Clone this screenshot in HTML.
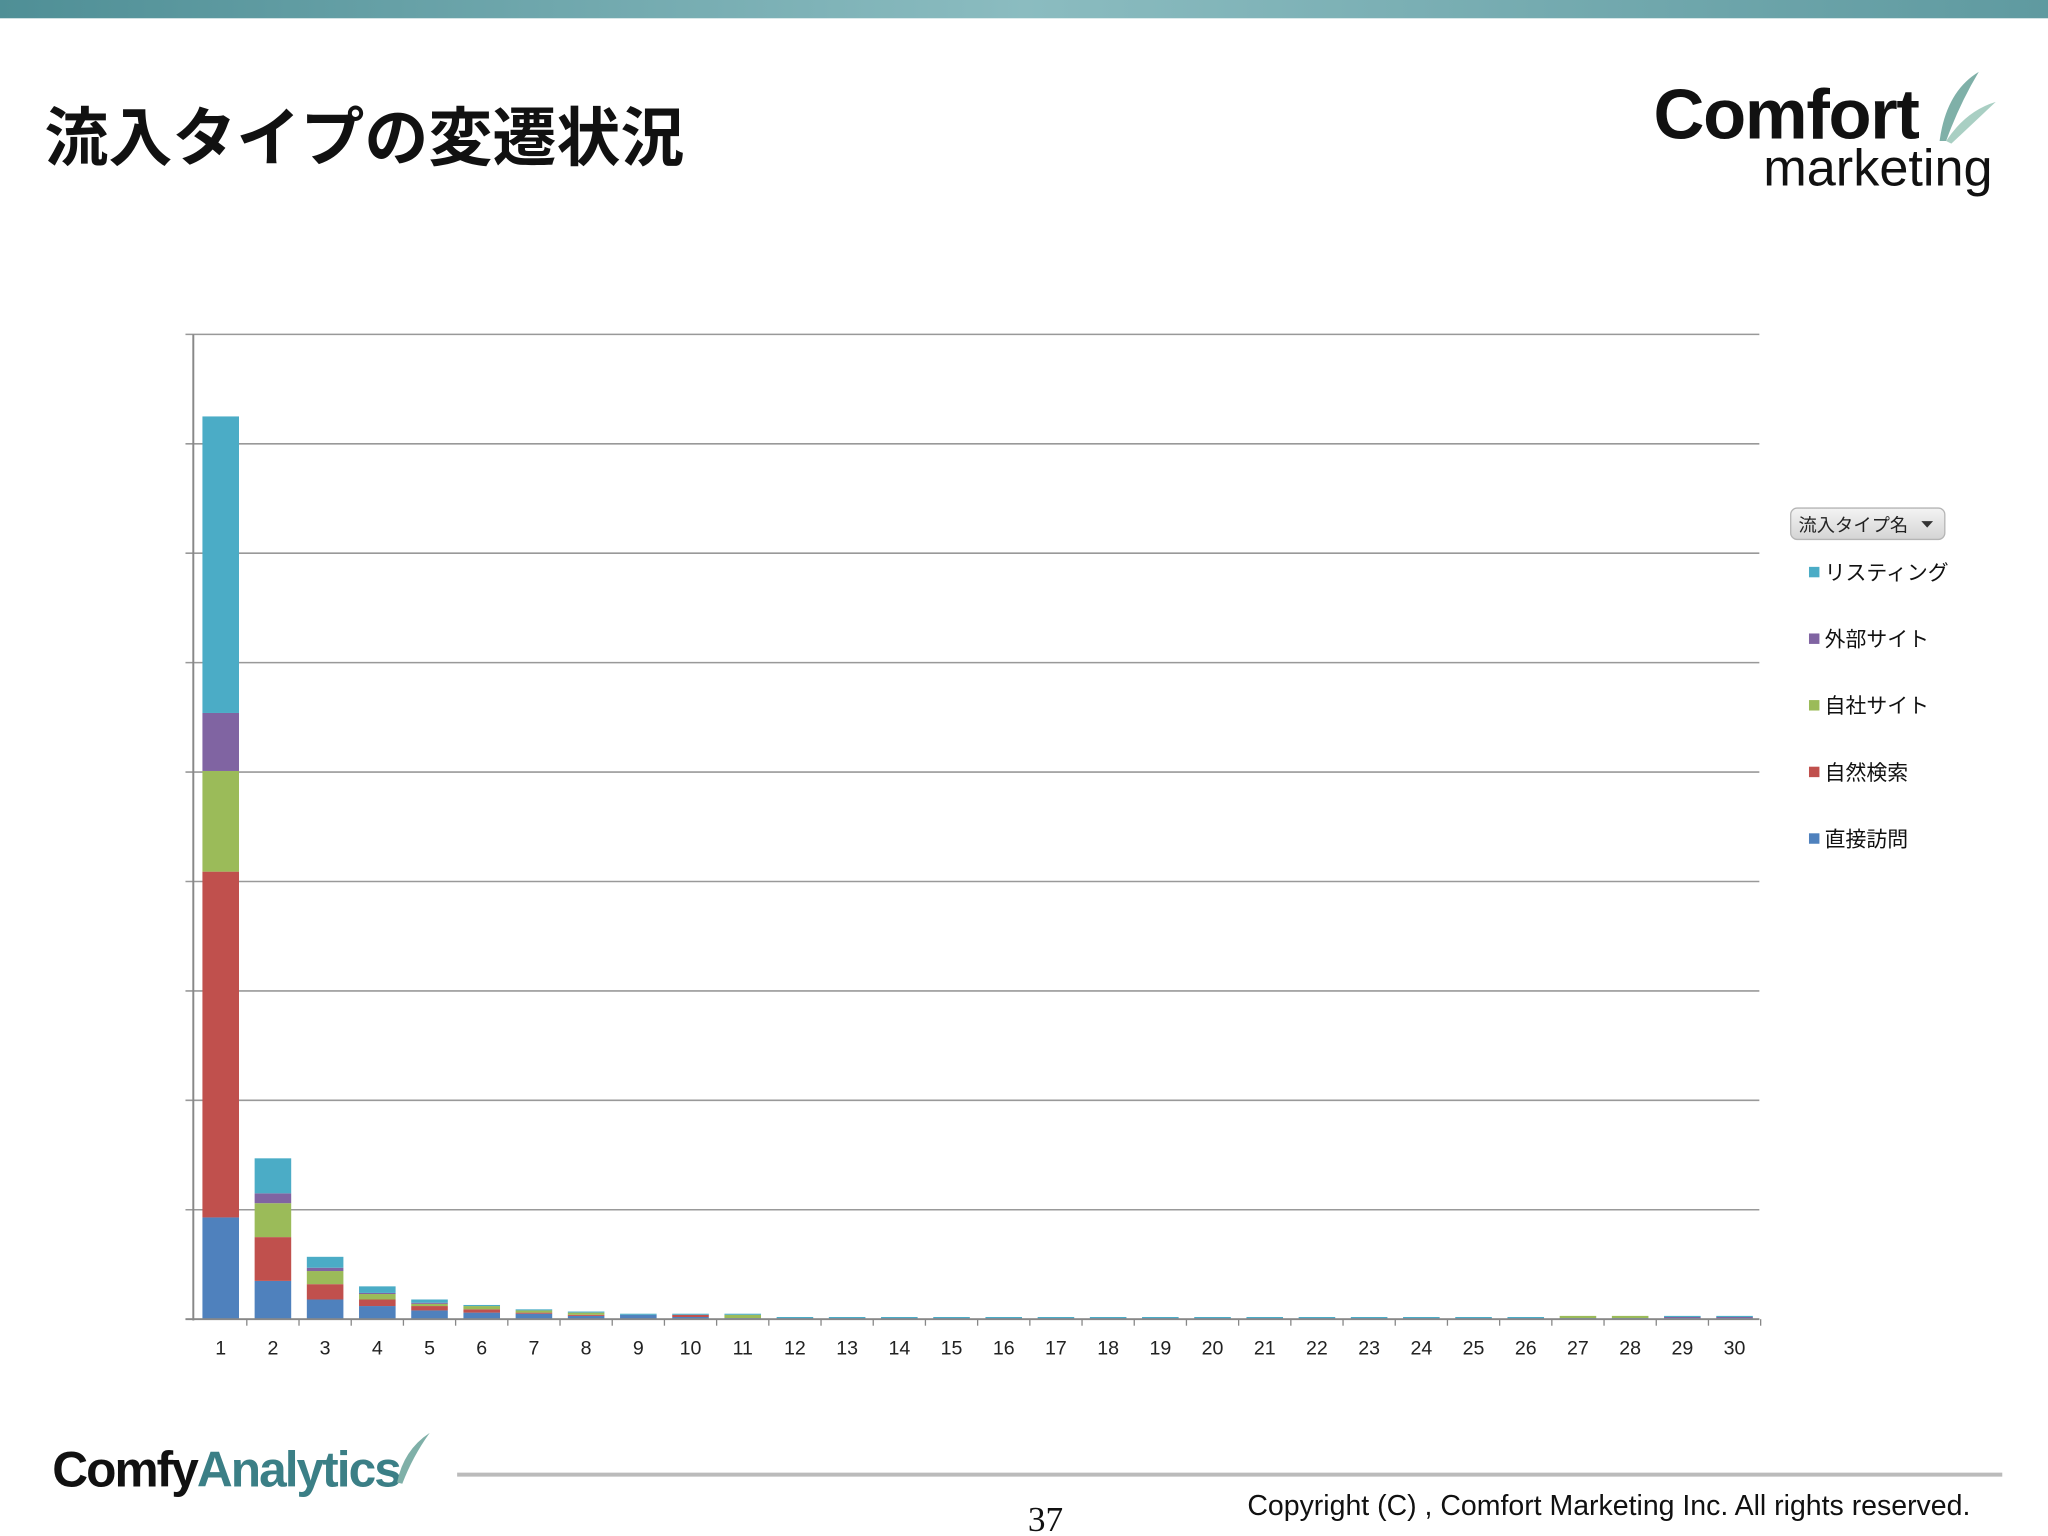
<!DOCTYPE html>
<html><head><meta charset="utf-8"><style>
html,body{margin:0;padding:0;background:#fff;width:2048px;height:1536px;overflow:hidden}
svg{display:block}
text{font-family:"Liberation Sans","Noto Sans CJK JP",sans-serif}
</style></head><body>
<svg id="chart" width="2048" height="1536" viewBox="0 0 1568 1176" xmlns="http://www.w3.org/2000/svg">
<defs>
<linearGradient id="tg" x1="0" x2="1" y1="0" y2="0"><stop offset="0" stop-color="#4f8f96"/><stop offset="0.5" stop-color="#8bbcc0"/><stop offset="1" stop-color="#5f9aa0"/></linearGradient>
<linearGradient id="bg" x1="0" x2="0" y1="0" y2="1"><stop offset="0" stop-color="#f4f4f4"/><stop offset="1" stop-color="#d4d4d4"/></linearGradient>
</defs>
<rect x="0" y="0" width="1568" height="14" fill="url(#tg)"/>
<text x="34" y="123" font-size="49" font-weight="bold" fill="#111">流入タイプの変遷状況</text>
<g>
<text x="1266" y="106" font-size="54" font-weight="bold" fill="#111" letter-spacing="-1">Comfort</text>
<text x="1350" y="142" font-size="40" fill="#111">marketing</text>
<path d="M1485 108 Q1490 70 1515 55 Q1500 80 1490 108 Z" fill="#7fb0a8"/>
<path d="M1490 108 Q1505 85 1528 78 Q1510 95 1494 110 Z" fill="#a9cfc3"/>
</g>
<g id="grid"></g>
<g id="bars"></g>
<g id="xlabels"></g>
<line x1="148" y1="256" x2="148" y2="1011" stroke="#888" stroke-width="1.5"/>
<line x1="142" y1="1010" x2="1347" y2="1010" stroke="#888" stroke-width="1.5"/>
<g>
<rect x="1371" y="389" width="118" height="24" rx="5" fill="url(#bg)" stroke="#b5b5b5"/>
<text x="1377" y="407" font-size="14" fill="#222">流入タイプ名</text>
<path d="M1471 399 L1480 399 L1475.5 404 Z" fill="#333"/>
</g>
<g id="legendItems"></g>
<g>
<text x="40" y="1138" font-size="38" font-weight="bold" fill="#111" letter-spacing="-1.5">Comfy<tspan fill="#3b7f86">Analytics</tspan></text>
<path d="M304 1135 Q309 1110 329 1097 Q316 1115 308 1136 Z" fill="#7fb0a8"/>
<line x1="350" y1="1129" x2="1533" y2="1129" stroke="#bbb" stroke-width="3"/>
<text x="787" y="1172" font-size="27" style="font-family:'Liberation Serif',serif" fill="#111">37</text>
<text x="955" y="1160" font-size="21.8" fill="#111">Copyright (C) , Comfort Marketing Inc. All rights reserved.</text>
</g>
</svg>
<script>
const categories=[];for(let i=1;i<=30;i++)categories.push(String(i));
const seriesNames=["直接訪問","自然検索","自社サイト","外部サイト","リスティング"];
const direct=[93,35,18,12,8,6,5,3,4,2,1,1,1,1,1,1,1,1,1,1,1,1,1,1,1,1,1,1,1,1];
const organic=[316,40,14,6,4,3,1,1,0,2,0,0,0,0,0,0,0,0,0,0,0,0,0,0,0,0,0,0,0,0];
const ownSite=[92,31,12,5,2,3,2,2,0,0,3,0,0,0,0,0,0,0,0,0,0,0,0,0,0,0,2,2,0,0];
const external=[53,9,3,1,1,0,0,0,0,0,0,0,0,0,0,0,0,0,0,0,0,0,0,0,0,0,0,0,1,1];
const listing=[271,32,10,6,3,1,1,1,1,1,1,1,1,1,1,1,1,1,1,1,1,1,1,1,1,1,0,0,1,1];
const yTicks=[0,100,200,300,400,500,600,700,800,900];
const colors=["#4f81bd","#c0504d","#9bbb59","#8064a2","#4bacc6"];
const series=[direct,organic,ownSite,external,listing];
const NS="http://www.w3.org/2000/svg";
const x0=149,x1=1348,yb=1010,yt=256,ymax=900;
const y=v=>yb-(v/ymax)*(yb-yt);
const bw=(x1-x0)/categories.length;
const xc=i=>x0+bw*(i+0.5);
function mk(t,a,p){const e=document.createElementNS(NS,t);for(const k in a)e.setAttribute(k,a[k]);p.appendChild(e);return e;}
const grid=document.getElementById('grid');
yTicks.forEach(v=>{const l=mk('line',{x1:142,x2:1347,y1:y(v),y2:y(v),stroke:'#999','stroke-width':1.2},grid);

});
const bars=document.getElementById('bars'),xl=document.getElementById('xlabels');
categories.forEach((c,i)=>{let acc=0;
series.forEach((s,k)=>{const v=s[i];if(v>0){const r=mk('rect',{x:xc(i)-14,width:28,y:y(acc+v),height:y(acc)-y(acc+v),fill:colors[k]},bars);

}acc+=v;});
const t=mk('text',{x:xc(i),y:1037,'font-size':15,'text-anchor':'middle',fill:'#222'},xl);t.textContent=c;


const tk=mk('line',{x1:x0+bw*(i+1),x2:x0+bw*(i+1),y1:1010,y2:1015,stroke:'#888'},xl);

});
const li=document.getElementById('legendItems');
[4,3,2,1,0].forEach((k,j)=>{const yy=438+j*51;
const g=mk('g',{},li);


mk('rect',{x:1385,y:yy-4,width:8,height:8,fill:colors[k]},g);
const t=mk('text',{x:1397,y:yy+6,'font-size':16,fill:'#111'},g);t.textContent=seriesNames[k];});
</script>
</body></html>
